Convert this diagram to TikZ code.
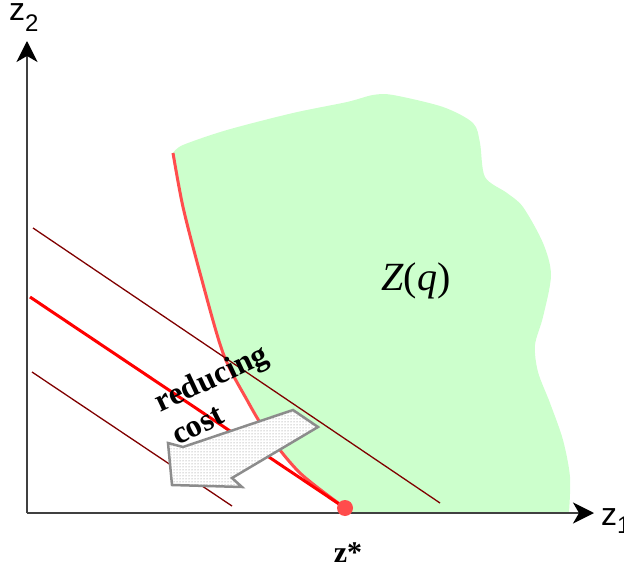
\documentclass[tikz,border=0pt]{standalone}
\usepackage{fontspec}
\setmainfont{Liberation Serif}
\newfontfamily\axisfont{Liberation Sans}
\usepackage{tikz}
\usetikzlibrary{arrows.meta,patterns}
\definecolor{regiongreen}{HTML}{CCFFCC}
\definecolor{frontred}{HTML}{FF4D4D}
\definecolor{levelred}{HTML}{800000}
\definecolor{arrowgray}{HTML}{8C8C8C}

\begin{document}
\begin{tikzpicture}[
  >={Stealth[length=21pt,width=21pt,inset=6pt,color=black]}, x=1pt, y=-1pt,
  axis/.style={->,draw=black!75,line width=2pt},
  level/.style={draw=levelred,line width=1.3pt},
  optline/.style={draw=red,line width=3pt},
  front/.style={draw=frontred,line width=3pt},
  axislabel/.style={font=\axisfont\fontsize{32}{32}\selectfont,inner sep=0pt},
  costlabel/.style={font=\bfseries\fontsize{32}{32}\selectfont,inner sep=0pt}]
\useasboundingbox (0,0) rectangle (624,572);
\coordinate (O) at (27,513);
\coordinate (xend) at (594,513);
\coordinate (yend) at (27,41);
\coordinate (zstar) at (345,508);
\coordinate (hiA) at (33,228);
\coordinate (hiB) at (440,503);
\coordinate (optA) at (30,297);
\coordinate (loA) at (32,372);
\coordinate (loB) at (232,506);
\fill[regiongreen] (345,512) -- plot[smooth] coordinates {(345,508) (300,473) (267,433)
  (247,400) (223,353) (200,273) (183,207) (173,153)}
  -- plot[smooth] coordinates {(173,153) (183,145) (227,130) (293,113) (347,102)
  (373,95) (393,95) (443,107) (473,123) (480,143) (485,177) (507,193) (523,207)
  (543,243) (551,275) (543,317) (535,345) (538,372) (550,403) (563,440) (570,477)
  (569,512)} -- cycle;
\draw[front] plot[smooth] coordinates {(345,508) (300,473) (267,433) (247,400)
  (223,353) (200,273) (183,207) (173,153)};
\draw[level] (hiA) -- (hiB);
\draw[level] (loA) -- (loB);
\draw[optline] (optA) -- (zstar);
\draw[draw=arrowgray,line width=2.5pt,preaction={fill=white},
  pattern=dots,pattern color=gray]
  (293,410) -- (318,427) -- (232,478) -- (242,487) -- (172,485) -- (168,443)
  -- (183,447) -- cycle;
\node[costlabel,rotate=25] (reducing) at (212,380) {reducing};
\node[costlabel,rotate=27] (cost) at (198,426) {cost};
\draw[axis] (O) -- (xend);
\draw[axis] (O) -- (yend);
\fill[red!70] (zstar) circle (8);
\node[font=\fontsize{40}{40}\selectfont] (Zq) at (416,281) {\textit{Z}(\textit{q})};
\node[anchor=base,font=\bfseries\fontsize{30}{30}\selectfont,inner sep=0pt]
  (zlabel) at (348,562) {z*};
\node[axislabel,anchor=base west] (ztwo) at (9,21)
  {z\raisebox{-11pt}{\fontsize{24}{24}\selectfont 2}};
\node[axislabel,anchor=base west] (zone) at (601,525)
  {z\raisebox{-8pt}{\fontsize{24}{24}\selectfont 1}};
\end{tikzpicture}
\end{document}
